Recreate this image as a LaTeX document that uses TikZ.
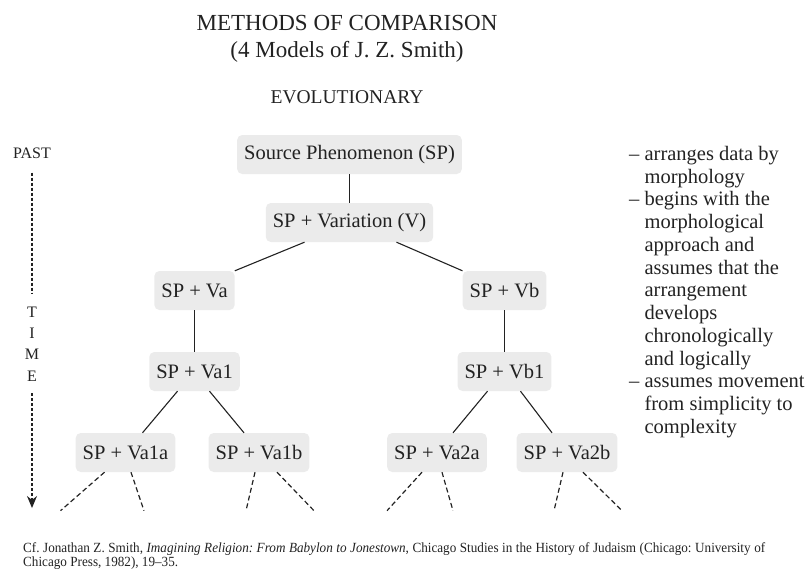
\documentclass[tikz,border=0pt]{standalone}
\usepackage{fontspec}
\setmainfont{Liberation Serif}
\newfontfamily\notefont[Ligatures=TeX, FakeStretch=0.94]{Liberation Serif}
\usetikzlibrary{positioning,calc,arrows.meta}
\definecolor{boxgray}{HTML}{EBEBEB}
\definecolor{ink}{HTML}{222222}
\frenchspacing

\begin{document}
\begin{tikzpicture}[x=1pt,y=-1pt,node distance=68pt]
    % Define styles for nodes and lines
    \tikzstyle{stage} = [rectangle, rounded corners=5pt, fill=boxgray, inner xsep=7pt, inner ysep=0pt, minimum height=39pt, text=ink, font=\fontsize{20.5}{24}\selectfont]
    \tikzstyle{heading} = [text=ink, inner sep=0pt]
    \tikzstyle{branch} = [draw=ink, line width=1.1pt]
    \tikzstyle{trail} = [draw=ink, line width=1.2pt, dash pattern=on 5pt off 3pt]
    \tikzset{timeline/.style={draw=ink, line width=1.2pt, dash pattern=on 3pt off 2pt,
        -{Stealth[length=12pt, width=10pt, inset=4pt]}
    }}
    \useasboundingbox (0,0) rectangle (808,576);
    % Headings
    \node (title) at (347,23) [heading, font=\fontsize{23}{28}\selectfont] {METHODS OF COMPARISON};
    \node (subtitle) at (347,52) [heading, font=\fontsize{23}{28}\selectfont] {(4 Models of J. Z. Smith)};
    \node (model) at (347,97) [heading, font=\fontsize{19.5}{24}\selectfont] {EVOLUTIONARY};
    % Time axis
    \node (past) at (32,153) [heading, font=\fontsize{16}{20}\selectfont] {PAST};
    \node (time) at (32,344) [heading, align=center, font=\fontsize{16}{21.3}\selectfont] {T\\I\\M\\E};
    \coordinate (future) at (32,508);
    \draw [timeline, -, shorten <=14pt, shorten >=14pt] (past) -- (time);
    \draw [timeline, shorten <=12pt] (time) -- (future);
    % Nodes
    \node (src) at (349.5,154.5) [stage] {Source Phenomenon (SP)};
    \node (var) [stage, below of=src] {SP + Variation (V)};
    \node (va) [stage, below of=var, xshift=-155pt] {SP + Va};
    \node (vb) [stage, below of=var, xshift=155pt] {SP + Vb};
    \node (va1) [stage, below of=va, yshift=-13pt] {SP + Va1};
    \node (vb1) [stage, below of=vb, yshift=-13pt] {SP + Vb1};
    \node (va1a) [stage, below of=va1, yshift=-13pt, xshift=-69pt] {SP + Va1a};
    \node (va1b) [stage, below of=va1, yshift=-13pt, xshift=64.5pt] {SP + Va1b};
    \node (va2a) [stage, below of=vb1, yshift=-13pt, xshift=-67.5pt] {SP + Va2a};
    \node (va2b) [stage, below of=vb1, yshift=-13pt, xshift=62.5pt] {SP + Va2b};
    % Branches
    \draw [branch] (src) -- (var);
    \draw [branch] ($(var.south)+(-45,0)$) -- (va.north east);
    \draw [branch] ($(var.south)+(47,0)$) -- (vb.north west);
    \draw [branch] (va) -- (va1);
    \draw [branch] (vb) -- (vb1);
    \draw [branch] ($(va1.south)+(-17,0)$) -- ($(va1a.north)+(17,0)$);
    \draw [branch] ($(va1.south)+(15,0)$) -- ($(va1b.north)+(-15,0)$);
    \draw [branch] ($(vb1.south)+(-17,0)$) -- ($(va2a.north)+(16,0)$);
    \draw [branch] ($(vb1.south)+(16,0)$) -- ($(va2b.north)+(-15,0)$);
    % Open ends below the last row
    \foreach \leaf/\a/\b/\c/\d in {va1a/-21/-65/5.5/18.5, va1b/-4/-13/18/55, va2a/-15/-50/5/16, va2b/-4/-13/16/55} {
        \coordinate (\leaf-l) at ($(\leaf.south)+(\b,38.5)$);
        \coordinate (\leaf-r) at ($(\leaf.south)+(\d,38.5)$);
        \draw [trail] ($(\leaf.south)+(\a,0)$) -- (\leaf-l);
        \draw [trail] ($(\leaf.south)+(\c,0)$) -- (\leaf-r);
    }
    % Notes
    \node (notes) at (629,146) [anchor=north west, inner sep=0pt, align=left, text=ink, font=\fontsize{20.5}{22.75}\selectfont]
        {-- arranges data by\\
         \phantom{-- }morphology\\
         -- begins with the\\
         \phantom{-- }morphological\\
         \phantom{-- }approach and\\
         \phantom{-- }assumes that the\\
         \phantom{-- }arrangement\\
         \phantom{-- }develops\\
         \phantom{-- }chronologically\\
         \phantom{-- }and logically\\
         -- assumes movement\\
         \phantom{-- }from simplicity to\\
         \phantom{-- }complexity};
    \node (source) at (23,542) [anchor=north west, inner sep=0pt, align=left, text=ink, font=\notefont\fontsize{14}{14}\selectfont]
        {\makebox[742pt][s]{Cf. Jonathan Z. Smith, \textit{Imagining Religion: From Babylon to Jonestown}, Chicago Studies in the History of Judaism (Chicago: University of}\\
         Chicago Press, 1982), 19--35.};
\end{tikzpicture}
\end{document}
